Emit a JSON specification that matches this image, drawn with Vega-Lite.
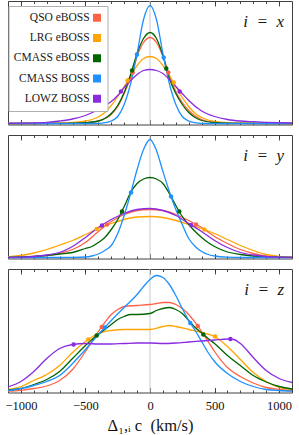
{
  "$schema": "https://vega.github.io/schema/vega-lite/v6.json",
  "padding": {"left": 4, "top": 0, "right": 6, "bottom": 0},
  "spacing": 7,
  "config": {
    "font": "Liberation Serif",
    "view": {"stroke": "#404040", "strokeWidth": 1},
    "axis": {"domain": false, "grid": false, "tickColor": "#333333", "tickWidth": 0.9, "labelFont": "Liberation Serif", "titleFont": "Liberation Serif"}
  },
  "datasets": {
    "curves": [
      {"p":"x","s":"QSO eBOSS","v":-1100,"d":0},{"p":"x","s":"QSO eBOSS","v":-700,"d":0.2},{"p":"x","s":"QSO eBOSS","v":-600,"d":0.3},{"p":"x","s":"QSO eBOSS","v":-500,"d":0.8},{"p":"x","s":"QSO eBOSS","v":-400,"d":2.5},{"p":"x","s":"QSO eBOSS","v":-350,"d":5},{"p":"x","s":"QSO eBOSS","v":-300,"d":9},{"p":"x","s":"QSO eBOSS","v":-250,"d":17},{"p":"x","s":"QSO eBOSS","v":-200,"d":30},{"p":"x","s":"QSO eBOSS","v":-150,"d":46},{"p":"x","s":"QSO eBOSS","v":-100,"d":67},{"p":"x","s":"QSO eBOSS","v":-50,"d":81},{"p":"x","s":"QSO eBOSS","v":0,"d":86},{"p":"x","s":"QSO eBOSS","v":50,"d":81},{"p":"x","s":"QSO eBOSS","v":100,"d":67},{"p":"x","s":"QSO eBOSS","v":150,"d":48},{"p":"x","s":"QSO eBOSS","v":200,"d":32},{"p":"x","s":"QSO eBOSS","v":250,"d":21},{"p":"x","s":"QSO eBOSS","v":300,"d":13},{"p":"x","s":"QSO eBOSS","v":350,"d":7.5},{"p":"x","s":"QSO eBOSS","v":400,"d":4},{"p":"x","s":"QSO eBOSS","v":500,"d":1.3},{"p":"x","s":"QSO eBOSS","v":600,"d":0.5},{"p":"x","s":"QSO eBOSS","v":700,"d":0.2},{"p":"x","s":"QSO eBOSS","v":1100,"d":0},
      {"p":"x","s":"LRG eBOSS","v":-1100,"d":0},{"p":"x","s":"LRG eBOSS","v":-800,"d":0.2},{"p":"x","s":"LRG eBOSS","v":-700,"d":0.5},{"p":"x","s":"LRG eBOSS","v":-600,"d":1},{"p":"x","s":"LRG eBOSS","v":-500,"d":2.5},{"p":"x","s":"LRG eBOSS","v":-450,"d":4},{"p":"x","s":"LRG eBOSS","v":-400,"d":6.5},{"p":"x","s":"LRG eBOSS","v":-350,"d":11},{"p":"x","s":"LRG eBOSS","v":-300,"d":18},{"p":"x","s":"LRG eBOSS","v":-250,"d":27},{"p":"x","s":"LRG eBOSS","v":-200,"d":37},{"p":"x","s":"LRG eBOSS","v":-150,"d":48},{"p":"x","s":"LRG eBOSS","v":-100,"d":58},{"p":"x","s":"LRG eBOSS","v":-50,"d":65},{"p":"x","s":"LRG eBOSS","v":0,"d":67},{"p":"x","s":"LRG eBOSS","v":50,"d":65},{"p":"x","s":"LRG eBOSS","v":100,"d":58},{"p":"x","s":"LRG eBOSS","v":150,"d":48},{"p":"x","s":"LRG eBOSS","v":200,"d":37},{"p":"x","s":"LRG eBOSS","v":250,"d":26},{"p":"x","s":"LRG eBOSS","v":300,"d":17},{"p":"x","s":"LRG eBOSS","v":350,"d":10},{"p":"x","s":"LRG eBOSS","v":400,"d":6},{"p":"x","s":"LRG eBOSS","v":450,"d":3.5},{"p":"x","s":"LRG eBOSS","v":500,"d":2.2},{"p":"x","s":"LRG eBOSS","v":600,"d":0.8},{"p":"x","s":"LRG eBOSS","v":700,"d":0.3},{"p":"x","s":"LRG eBOSS","v":1100,"d":0},
      {"p":"x","s":"CMASS eBOSS","v":-1100,"d":0},{"p":"x","s":"CMASS eBOSS","v":-700,"d":0.1},{"p":"x","s":"CMASS eBOSS","v":-600,"d":0.3},{"p":"x","s":"CMASS eBOSS","v":-500,"d":0.8},{"p":"x","s":"CMASS eBOSS","v":-400,"d":2.5},{"p":"x","s":"CMASS eBOSS","v":-350,"d":5},{"p":"x","s":"CMASS eBOSS","v":-300,"d":10},{"p":"x","s":"CMASS eBOSS","v":-250,"d":18},{"p":"x","s":"CMASS eBOSS","v":-200,"d":31},{"p":"x","s":"CMASS eBOSS","v":-150,"d":49},{"p":"x","s":"CMASS eBOSS","v":-100,"d":70},{"p":"x","s":"CMASS eBOSS","v":-50,"d":85},{"p":"x","s":"CMASS eBOSS","v":0,"d":91},{"p":"x","s":"CMASS eBOSS","v":50,"d":85},{"p":"x","s":"CMASS eBOSS","v":100,"d":68},{"p":"x","s":"CMASS eBOSS","v":150,"d":45},{"p":"x","s":"CMASS eBOSS","v":200,"d":30},{"p":"x","s":"CMASS eBOSS","v":250,"d":19},{"p":"x","s":"CMASS eBOSS","v":300,"d":11},{"p":"x","s":"CMASS eBOSS","v":350,"d":6},{"p":"x","s":"CMASS eBOSS","v":400,"d":3},{"p":"x","s":"CMASS eBOSS","v":500,"d":1},{"p":"x","s":"CMASS eBOSS","v":600,"d":0.3},{"p":"x","s":"CMASS eBOSS","v":700,"d":0.1},{"p":"x","s":"CMASS eBOSS","v":1100,"d":0},
      {"p":"x","s":"CMASS BOSS","v":-1100,"d":0},{"p":"x","s":"CMASS BOSS","v":-500,"d":0},{"p":"x","s":"CMASS BOSS","v":-400,"d":0.2},{"p":"x","s":"CMASS BOSS","v":-350,"d":0.8},{"p":"x","s":"CMASS BOSS","v":-300,"d":2.5},{"p":"x","s":"CMASS BOSS","v":-250,"d":7},{"p":"x","s":"CMASS BOSS","v":-200,"d":19},{"p":"x","s":"CMASS BOSS","v":-150,"d":40},{"p":"x","s":"CMASS BOSS","v":-100,"d":70},{"p":"x","s":"CMASS BOSS","v":-50,"d":104},{"p":"x","s":"CMASS BOSS","v":0,"d":118},{"p":"x","s":"CMASS BOSS","v":50,"d":104},{"p":"x","s":"CMASS BOSS","v":100,"d":70},{"p":"x","s":"CMASS BOSS","v":150,"d":40},{"p":"x","s":"CMASS BOSS","v":200,"d":19},{"p":"x","s":"CMASS BOSS","v":250,"d":7},{"p":"x","s":"CMASS BOSS","v":300,"d":2.5},{"p":"x","s":"CMASS BOSS","v":350,"d":0.8},{"p":"x","s":"CMASS BOSS","v":400,"d":0.2},{"p":"x","s":"CMASS BOSS","v":500,"d":0},{"p":"x","s":"CMASS BOSS","v":1100,"d":0},
      {"p":"x","s":"LOWZ BOSS","v":-1100,"d":0.1},{"p":"x","s":"LOWZ BOSS","v":-1000,"d":0.3},{"p":"x","s":"LOWZ BOSS","v":-900,"d":0.6},{"p":"x","s":"LOWZ BOSS","v":-800,"d":1.2},{"p":"x","s":"LOWZ BOSS","v":-700,"d":2.5},{"p":"x","s":"LOWZ BOSS","v":-600,"d":4.5},{"p":"x","s":"LOWZ BOSS","v":-500,"d":8},{"p":"x","s":"LOWZ BOSS","v":-400,"d":14},{"p":"x","s":"LOWZ BOSS","v":-300,"d":22},{"p":"x","s":"LOWZ BOSS","v":-250,"d":28},{"p":"x","s":"LOWZ BOSS","v":-200,"d":36},{"p":"x","s":"LOWZ BOSS","v":-150,"d":43},{"p":"x","s":"LOWZ BOSS","v":-100,"d":49},{"p":"x","s":"LOWZ BOSS","v":-50,"d":53},{"p":"x","s":"LOWZ BOSS","v":0,"d":54},{"p":"x","s":"LOWZ BOSS","v":50,"d":53},{"p":"x","s":"LOWZ BOSS","v":100,"d":50},{"p":"x","s":"LOWZ BOSS","v":150,"d":44},{"p":"x","s":"LOWZ BOSS","v":200,"d":37},{"p":"x","s":"LOWZ BOSS","v":250,"d":30},{"p":"x","s":"LOWZ BOSS","v":300,"d":23},{"p":"x","s":"LOWZ BOSS","v":400,"d":12.5},{"p":"x","s":"LOWZ BOSS","v":500,"d":7},{"p":"x","s":"LOWZ BOSS","v":600,"d":4},{"p":"x","s":"LOWZ BOSS","v":700,"d":2.5},{"p":"x","s":"LOWZ BOSS","v":800,"d":1.8},{"p":"x","s":"LOWZ BOSS","v":900,"d":1.2},{"p":"x","s":"LOWZ BOSS","v":1000,"d":0.8},{"p":"x","s":"LOWZ BOSS","v":1100,"d":0.5},

      {"p":"y","s":"QSO eBOSS","v":-1100,"d":0.2},{"p":"y","s":"QSO eBOSS","v":-1000,"d":0.4},{"p":"y","s":"QSO eBOSS","v":-900,"d":1},{"p":"y","s":"QSO eBOSS","v":-800,"d":2},{"p":"y","s":"QSO eBOSS","v":-700,"d":4},{"p":"y","s":"QSO eBOSS","v":-600,"d":8},{"p":"y","s":"QSO eBOSS","v":-500,"d":15},{"p":"y","s":"QSO eBOSS","v":-400,"d":26},{"p":"y","s":"QSO eBOSS","v":-300,"d":36},{"p":"y","s":"QSO eBOSS","v":-200,"d":43},{"p":"y","s":"QSO eBOSS","v":-100,"d":47},{"p":"y","s":"QSO eBOSS","v":0,"d":48},{"p":"y","s":"QSO eBOSS","v":100,"d":47},{"p":"y","s":"QSO eBOSS","v":200,"d":43},{"p":"y","s":"QSO eBOSS","v":300,"d":37},{"p":"y","s":"QSO eBOSS","v":400,"d":30},{"p":"y","s":"QSO eBOSS","v":500,"d":21},{"p":"y","s":"QSO eBOSS","v":600,"d":14},{"p":"y","s":"QSO eBOSS","v":700,"d":8},{"p":"y","s":"QSO eBOSS","v":800,"d":4},{"p":"y","s":"QSO eBOSS","v":900,"d":1.5},{"p":"y","s":"QSO eBOSS","v":1000,"d":0.5},{"p":"y","s":"QSO eBOSS","v":1100,"d":0.2},
      {"p":"y","s":"LRG eBOSS","v":-1100,"d":0.8},{"p":"y","s":"LRG eBOSS","v":-1000,"d":2},{"p":"y","s":"LRG eBOSS","v":-900,"d":4.5},{"p":"y","s":"LRG eBOSS","v":-800,"d":8},{"p":"y","s":"LRG eBOSS","v":-700,"d":12.5},{"p":"y","s":"LRG eBOSS","v":-600,"d":17},{"p":"y","s":"LRG eBOSS","v":-500,"d":23},{"p":"y","s":"LRG eBOSS","v":-400,"d":29},{"p":"y","s":"LRG eBOSS","v":-300,"d":34},{"p":"y","s":"LRG eBOSS","v":-200,"d":38},{"p":"y","s":"LRG eBOSS","v":-100,"d":40.5},{"p":"y","s":"LRG eBOSS","v":0,"d":41},{"p":"y","s":"LRG eBOSS","v":100,"d":40},{"p":"y","s":"LRG eBOSS","v":200,"d":37},{"p":"y","s":"LRG eBOSS","v":300,"d":33},{"p":"y","s":"LRG eBOSS","v":400,"d":29},{"p":"y","s":"LRG eBOSS","v":500,"d":24},{"p":"y","s":"LRG eBOSS","v":600,"d":18},{"p":"y","s":"LRG eBOSS","v":700,"d":12},{"p":"y","s":"LRG eBOSS","v":800,"d":7},{"p":"y","s":"LRG eBOSS","v":900,"d":3},{"p":"y","s":"LRG eBOSS","v":1000,"d":1},{"p":"y","s":"LRG eBOSS","v":1100,"d":0.3},
      {"p":"y","s":"CMASS eBOSS","v":-1100,"d":0.2},{"p":"y","s":"CMASS eBOSS","v":-1000,"d":0.5},{"p":"y","s":"CMASS eBOSS","v":-900,"d":1},{"p":"y","s":"CMASS eBOSS","v":-800,"d":2},{"p":"y","s":"CMASS eBOSS","v":-700,"d":3.5},{"p":"y","s":"CMASS eBOSS","v":-600,"d":5},{"p":"y","s":"CMASS eBOSS","v":-500,"d":9},{"p":"y","s":"CMASS eBOSS","v":-450,"d":11},{"p":"y","s":"CMASS eBOSS","v":-400,"d":15},{"p":"y","s":"CMASS eBOSS","v":-350,"d":20},{"p":"y","s":"CMASS eBOSS","v":-300,"d":28},{"p":"y","s":"CMASS eBOSS","v":-250,"d":38},{"p":"y","s":"CMASS eBOSS","v":-200,"d":51},{"p":"y","s":"CMASS eBOSS","v":-150,"d":65},{"p":"y","s":"CMASS eBOSS","v":-100,"d":74},{"p":"y","s":"CMASS eBOSS","v":-50,"d":78.5},{"p":"y","s":"CMASS eBOSS","v":0,"d":80},{"p":"y","s":"CMASS eBOSS","v":50,"d":78.5},{"p":"y","s":"CMASS eBOSS","v":100,"d":74},{"p":"y","s":"CMASS eBOSS","v":150,"d":64},{"p":"y","s":"CMASS eBOSS","v":200,"d":52},{"p":"y","s":"CMASS eBOSS","v":250,"d":41},{"p":"y","s":"CMASS eBOSS","v":300,"d":33},{"p":"y","s":"CMASS eBOSS","v":350,"d":26},{"p":"y","s":"CMASS eBOSS","v":400,"d":20},{"p":"y","s":"CMASS eBOSS","v":450,"d":15},{"p":"y","s":"CMASS eBOSS","v":500,"d":11},{"p":"y","s":"CMASS eBOSS","v":600,"d":5.5},{"p":"y","s":"CMASS eBOSS","v":700,"d":3},{"p":"y","s":"CMASS eBOSS","v":800,"d":1.5},{"p":"y","s":"CMASS eBOSS","v":900,"d":0.7},{"p":"y","s":"CMASS eBOSS","v":1000,"d":0.3},{"p":"y","s":"CMASS eBOSS","v":1100,"d":0.1},
      {"p":"y","s":"CMASS BOSS","v":-1100,"d":0},{"p":"y","s":"CMASS BOSS","v":-700,"d":0},{"p":"y","s":"CMASS BOSS","v":-600,"d":0.1},{"p":"y","s":"CMASS BOSS","v":-500,"d":0.5},{"p":"y","s":"CMASS BOSS","v":-450,"d":1.5},{"p":"y","s":"CMASS BOSS","v":-400,"d":3.5},{"p":"y","s":"CMASS BOSS","v":-350,"d":7},{"p":"y","s":"CMASS BOSS","v":-300,"d":12},{"p":"y","s":"CMASS BOSS","v":-250,"d":24},{"p":"y","s":"CMASS BOSS","v":-200,"d":42},{"p":"y","s":"CMASS BOSS","v":-150,"d":64},{"p":"y","s":"CMASS BOSS","v":-100,"d":88},{"p":"y","s":"CMASS BOSS","v":-50,"d":108},{"p":"y","s":"CMASS BOSS","v":0,"d":118},{"p":"y","s":"CMASS BOSS","v":50,"d":107},{"p":"y","s":"CMASS BOSS","v":100,"d":86},{"p":"y","s":"CMASS BOSS","v":150,"d":66},{"p":"y","s":"CMASS BOSS","v":200,"d":48},{"p":"y","s":"CMASS BOSS","v":250,"d":33},{"p":"y","s":"CMASS BOSS","v":300,"d":19},{"p":"y","s":"CMASS BOSS","v":350,"d":11},{"p":"y","s":"CMASS BOSS","v":400,"d":6},{"p":"y","s":"CMASS BOSS","v":450,"d":3},{"p":"y","s":"CMASS BOSS","v":500,"d":1.5},{"p":"y","s":"CMASS BOSS","v":600,"d":0.3},{"p":"y","s":"CMASS BOSS","v":700,"d":0},{"p":"y","s":"CMASS BOSS","v":1100,"d":0},
      {"p":"y","s":"LOWZ BOSS","v":-1100,"d":0.2},{"p":"y","s":"LOWZ BOSS","v":-1000,"d":0.4},{"p":"y","s":"LOWZ BOSS","v":-900,"d":1},{"p":"y","s":"LOWZ BOSS","v":-800,"d":2.5},{"p":"y","s":"LOWZ BOSS","v":-700,"d":5},{"p":"y","s":"LOWZ BOSS","v":-600,"d":11},{"p":"y","s":"LOWZ BOSS","v":-500,"d":20},{"p":"y","s":"LOWZ BOSS","v":-400,"d":30},{"p":"y","s":"LOWZ BOSS","v":-300,"d":38},{"p":"y","s":"LOWZ BOSS","v":-200,"d":44},{"p":"y","s":"LOWZ BOSS","v":-100,"d":48},{"p":"y","s":"LOWZ BOSS","v":0,"d":49},{"p":"y","s":"LOWZ BOSS","v":100,"d":47},{"p":"y","s":"LOWZ BOSS","v":200,"d":42},{"p":"y","s":"LOWZ BOSS","v":300,"d":34},{"p":"y","s":"LOWZ BOSS","v":400,"d":26},{"p":"y","s":"LOWZ BOSS","v":500,"d":17},{"p":"y","s":"LOWZ BOSS","v":600,"d":10},{"p":"y","s":"LOWZ BOSS","v":700,"d":5},{"p":"y","s":"LOWZ BOSS","v":800,"d":2.5},{"p":"y","s":"LOWZ BOSS","v":900,"d":1},{"p":"y","s":"LOWZ BOSS","v":1000,"d":0.4},{"p":"y","s":"LOWZ BOSS","v":1100,"d":0.2},

      {"p":"z","s":"QSO eBOSS","v":-1100,"d":0.5},{"p":"z","s":"QSO eBOSS","v":-1000,"d":1.2},{"p":"z","s":"QSO eBOSS","v":-900,"d":3},{"p":"z","s":"QSO eBOSS","v":-800,"d":5.5},{"p":"z","s":"QSO eBOSS","v":-700,"d":11},{"p":"z","s":"QSO eBOSS","v":-600,"d":22},{"p":"z","s":"QSO eBOSS","v":-500,"d":40},{"p":"z","s":"QSO eBOSS","v":-450,"d":50},{"p":"z","s":"QSO eBOSS","v":-400,"d":60},{"p":"z","s":"QSO eBOSS","v":-350,"d":69},{"p":"z","s":"QSO eBOSS","v":-300,"d":77},{"p":"z","s":"QSO eBOSS","v":-250,"d":82},{"p":"z","s":"QSO eBOSS","v":-200,"d":85},{"p":"z","s":"QSO eBOSS","v":-100,"d":86},{"p":"z","s":"QSO eBOSS","v":0,"d":87},{"p":"z","s":"QSO eBOSS","v":50,"d":88},{"p":"z","s":"QSO eBOSS","v":100,"d":89},{"p":"z","s":"QSO eBOSS","v":150,"d":89},{"p":"z","s":"QSO eBOSS","v":200,"d":87},{"p":"z","s":"QSO eBOSS","v":250,"d":83},{"p":"z","s":"QSO eBOSS","v":300,"d":77},{"p":"z","s":"QSO eBOSS","v":350,"d":69},{"p":"z","s":"QSO eBOSS","v":400,"d":60},{"p":"z","s":"QSO eBOSS","v":450,"d":50},{"p":"z","s":"QSO eBOSS","v":500,"d":40},{"p":"z","s":"QSO eBOSS","v":600,"d":24},{"p":"z","s":"QSO eBOSS","v":700,"d":15},{"p":"z","s":"QSO eBOSS","v":800,"d":8.5},{"p":"z","s":"QSO eBOSS","v":900,"d":4},{"p":"z","s":"QSO eBOSS","v":1000,"d":2},{"p":"z","s":"QSO eBOSS","v":1100,"d":0.8},
      {"p":"z","s":"LRG eBOSS","v":-1100,"d":2},{"p":"z","s":"LRG eBOSS","v":-1000,"d":5},{"p":"z","s":"LRG eBOSS","v":-900,"d":11},{"p":"z","s":"LRG eBOSS","v":-800,"d":17},{"p":"z","s":"LRG eBOSS","v":-700,"d":26},{"p":"z","s":"LRG eBOSS","v":-600,"d":39},{"p":"z","s":"LRG eBOSS","v":-500,"d":50},{"p":"z","s":"LRG eBOSS","v":-400,"d":58},{"p":"z","s":"LRG eBOSS","v":-300,"d":61},{"p":"z","s":"LRG eBOSS","v":-200,"d":62},{"p":"z","s":"LRG eBOSS","v":-100,"d":62},{"p":"z","s":"LRG eBOSS","v":0,"d":62},{"p":"z","s":"LRG eBOSS","v":100,"d":65},{"p":"z","s":"LRG eBOSS","v":150,"d":66},{"p":"z","s":"LRG eBOSS","v":200,"d":65},{"p":"z","s":"LRG eBOSS","v":300,"d":62},{"p":"z","s":"LRG eBOSS","v":400,"d":59},{"p":"z","s":"LRG eBOSS","v":500,"d":55},{"p":"z","s":"LRG eBOSS","v":600,"d":45},{"p":"z","s":"LRG eBOSS","v":700,"d":32},{"p":"z","s":"LRG eBOSS","v":800,"d":19},{"p":"z","s":"LRG eBOSS","v":900,"d":10},{"p":"z","s":"LRG eBOSS","v":1000,"d":4},{"p":"z","s":"LRG eBOSS","v":1100,"d":2},
      {"p":"z","s":"CMASS eBOSS","v":-1100,"d":1.5},{"p":"z","s":"CMASS eBOSS","v":-1000,"d":3},{"p":"z","s":"CMASS eBOSS","v":-900,"d":7},{"p":"z","s":"CMASS eBOSS","v":-800,"d":12},{"p":"z","s":"CMASS eBOSS","v":-700,"d":20},{"p":"z","s":"CMASS eBOSS","v":-600,"d":33},{"p":"z","s":"CMASS eBOSS","v":-500,"d":46},{"p":"z","s":"CMASS eBOSS","v":-450,"d":52},{"p":"z","s":"CMASS eBOSS","v":-400,"d":57},{"p":"z","s":"CMASS eBOSS","v":-350,"d":62},{"p":"z","s":"CMASS eBOSS","v":-300,"d":67},{"p":"z","s":"CMASS eBOSS","v":-250,"d":72},{"p":"z","s":"CMASS eBOSS","v":-200,"d":75},{"p":"z","s":"CMASS eBOSS","v":-150,"d":77},{"p":"z","s":"CMASS eBOSS","v":-100,"d":77},{"p":"z","s":"CMASS eBOSS","v":0,"d":78},{"p":"z","s":"CMASS eBOSS","v":50,"d":81},{"p":"z","s":"CMASS eBOSS","v":100,"d":83},{"p":"z","s":"CMASS eBOSS","v":150,"d":84},{"p":"z","s":"CMASS eBOSS","v":200,"d":82},{"p":"z","s":"CMASS eBOSS","v":250,"d":78},{"p":"z","s":"CMASS eBOSS","v":300,"d":71},{"p":"z","s":"CMASS eBOSS","v":350,"d":64},{"p":"z","s":"CMASS eBOSS","v":400,"d":58.5},{"p":"z","s":"CMASS eBOSS","v":450,"d":53},{"p":"z","s":"CMASS eBOSS","v":500,"d":48},{"p":"z","s":"CMASS eBOSS","v":600,"d":36},{"p":"z","s":"CMASS eBOSS","v":700,"d":26},{"p":"z","s":"CMASS eBOSS","v":800,"d":16},{"p":"z","s":"CMASS eBOSS","v":900,"d":9.5},{"p":"z","s":"CMASS eBOSS","v":1000,"d":5},{"p":"z","s":"CMASS eBOSS","v":1100,"d":2.5},
      {"p":"z","s":"CMASS BOSS","v":-1100,"d":1},{"p":"z","s":"CMASS BOSS","v":-1000,"d":3},{"p":"z","s":"CMASS BOSS","v":-900,"d":6},{"p":"z","s":"CMASS BOSS","v":-800,"d":10},{"p":"z","s":"CMASS BOSS","v":-700,"d":16},{"p":"z","s":"CMASS BOSS","v":-600,"d":28},{"p":"z","s":"CMASS BOSS","v":-500,"d":42},{"p":"z","s":"CMASS BOSS","v":-400,"d":57},{"p":"z","s":"CMASS BOSS","v":-300,"d":71},{"p":"z","s":"CMASS BOSS","v":-200,"d":84},{"p":"z","s":"CMASS BOSS","v":-100,"d":97},{"p":"z","s":"CMASS BOSS","v":-50,"d":105},{"p":"z","s":"CMASS BOSS","v":0,"d":112},{"p":"z","s":"CMASS BOSS","v":50,"d":116},{"p":"z","s":"CMASS BOSS","v":100,"d":114},{"p":"z","s":"CMASS BOSS","v":150,"d":107},{"p":"z","s":"CMASS BOSS","v":200,"d":96},{"p":"z","s":"CMASS BOSS","v":250,"d":83},{"p":"z","s":"CMASS BOSS","v":300,"d":71},{"p":"z","s":"CMASS BOSS","v":350,"d":61},{"p":"z","s":"CMASS BOSS","v":400,"d":50},{"p":"z","s":"CMASS BOSS","v":450,"d":39},{"p":"z","s":"CMASS BOSS","v":500,"d":30},{"p":"z","s":"CMASS BOSS","v":600,"d":18},{"p":"z","s":"CMASS BOSS","v":700,"d":10},{"p":"z","s":"CMASS BOSS","v":800,"d":5},{"p":"z","s":"CMASS BOSS","v":900,"d":2},{"p":"z","s":"CMASS BOSS","v":1000,"d":1},{"p":"z","s":"CMASS BOSS","v":1100,"d":0.5},
      {"p":"z","s":"LOWZ BOSS","v":-1100,"d":4.5},{"p":"z","s":"LOWZ BOSS","v":-1000,"d":10},{"p":"z","s":"LOWZ BOSS","v":-900,"d":20},{"p":"z","s":"LOWZ BOSS","v":-800,"d":33},{"p":"z","s":"LOWZ BOSS","v":-700,"d":43},{"p":"z","s":"LOWZ BOSS","v":-600,"d":47},{"p":"z","s":"LOWZ BOSS","v":-500,"d":48},{"p":"z","s":"LOWZ BOSS","v":-400,"d":47.5},{"p":"z","s":"LOWZ BOSS","v":-300,"d":47.5},{"p":"z","s":"LOWZ BOSS","v":-200,"d":48},{"p":"z","s":"LOWZ BOSS","v":-100,"d":48.5},{"p":"z","s":"LOWZ BOSS","v":0,"d":48.5},{"p":"z","s":"LOWZ BOSS","v":100,"d":48},{"p":"z","s":"LOWZ BOSS","v":200,"d":48.5},{"p":"z","s":"LOWZ BOSS","v":300,"d":49.5},{"p":"z","s":"LOWZ BOSS","v":400,"d":50.5},{"p":"z","s":"LOWZ BOSS","v":500,"d":51.5},{"p":"z","s":"LOWZ BOSS","v":600,"d":52.5},{"p":"z","s":"LOWZ BOSS","v":650,"d":52},{"p":"z","s":"LOWZ BOSS","v":700,"d":48},{"p":"z","s":"LOWZ BOSS","v":800,"d":34},{"p":"z","s":"LOWZ BOSS","v":900,"d":21},{"p":"z","s":"LOWZ BOSS","v":1000,"d":13},{"p":"z","s":"LOWZ BOSS","v":1100,"d":9}
    ],
    "points": [
      {"p":"x","s":"QSO eBOSS","v":-134,"d":51},{"p":"x","s":"QSO eBOSS","v":142,"d":51},
      {"p":"x","s":"LRG eBOSS","v":-173,"d":43},{"p":"x","s":"LRG eBOSS","v":184,"d":41},
      {"p":"x","s":"CMASS eBOSS","v":-139,"d":53},{"p":"x","s":"CMASS eBOSS","v":126,"d":55},
      {"p":"x","s":"CMASS BOSS","v":-101,"d":69},{"p":"x","s":"CMASS BOSS","v":106,"d":66},
      {"p":"x","s":"LOWZ BOSS","v":-225,"d":32},{"p":"x","s":"LOWZ BOSS","v":230,"d":32},
      {"p":"y","s":"QSO eBOSS","v":-333,"d":33},{"p":"y","s":"QSO eBOSS","v":357,"d":33},
      {"p":"y","s":"LRG eBOSS","v":-413,"d":28.5},{"p":"y","s":"LRG eBOSS","v":421,"d":28},
      {"p":"y","s":"CMASS eBOSS","v":-217,"d":46},{"p":"y","s":"CMASS eBOSS","v":227,"d":46},
      {"p":"y","s":"CMASS BOSS","v":-147,"d":65},{"p":"y","s":"CMASS BOSS","v":163,"d":61},
      {"p":"y","s":"LOWZ BOSS","v":-372,"d":32},{"p":"y","s":"LOWZ BOSS","v":318,"d":32.5},
      {"p":"z","s":"QSO eBOSS","v":-374,"d":64.5},{"p":"z","s":"QSO eBOSS","v":370,"d":65.5},
      {"p":"z","s":"LRG eBOSS","v":-478,"d":52},{"p":"z","s":"LRG eBOSS","v":504,"d":55},
      {"p":"z","s":"CMASS eBOSS","v":-413,"d":56},{"p":"z","s":"CMASS eBOSS","v":413,"d":57},
      {"p":"z","s":"CMASS BOSS","v":-349,"d":64},{"p":"z","s":"CMASS BOSS","v":312,"d":68.5},
      {"p":"z","s":"LOWZ BOSS","v":-592,"d":47},{"p":"z","s":"LOWZ BOSS","v":623,"d":52.5}
    ]
  },
  "vconcat": [
    {
      "width": 284, "height": 123.5,
      "resolve": {"axis": {"x": "independent"}},
      "layer": [
        {"data": {"values": [{}]}, "mark": {"type": "rule", "color": "#c8c8c8", "strokeWidth": 1},
         "encoding": {"x": {"datum": 0, "type": "quantitative", "scale": {"domain": [-1100, 1100], "nice": false, "zero": false}, "axis": null}}},
        {"data": {"name": "curves"}, "transform": [{"filter": "datum.p === 'x'"}],
         "mark": {"type": "line", "interpolate": "monotone", "strokeWidth": 1.3},
         "encoding": {
           "x": {"field": "v", "type": "quantitative", "scale": {"domain": [-1100, 1100], "nice": false, "zero": false},
             "axis": {"orient": "bottom", "values": [-1000, -500, 0, 500, 1000], "labels": false, "ticks": true, "tickSize": -5, "domain": false, "title": null}},
           "y": {"field": "d", "type": "quantitative", "scale": {"domain": [-1, 122.5], "nice": false, "zero": false}, "axis": null},
           "color": {"field": "s", "type": "nominal",
             "scale": {"domain": ["QSO eBOSS", "LRG eBOSS", "CMASS eBOSS", "CMASS BOSS", "LOWZ BOSS"], "range": ["#ff6347", "#ffa500", "#006400", "#1e90ff", "#8a2be2"]},
             "legend": {"title": null, "orient": "none", "legendX": 0.5, "legendY": 5, "direction": "vertical",
               "symbolType": "square", "symbolSize": 64, "symbolStrokeWidth": 0,
               "labelAlign": "right",
               "labelFont": "Liberation Serif", "labelFontSize": 11.5, "labelColor": "#1a1a1a", "labelLimit": 0,
               "padding": 6, "rowPadding": 7.25, "strokeColor": "#b0b0b0", "fillColor": "#ffffff", "cornerRadius": 0,
               "encode": {
                 "symbols": {"update": {"x": {"value": 82.5}, "fill": {"scale": "color", "field": "value"}, "stroke": {"value": "transparent"}, "opacity": {"value": 1}}},
                 "labels": {"update": {"x": {"value": 75.1}, "align": {"value": "right"}}}
               }}}
         }},
        {"data": {"name": "points"}, "transform": [{"filter": "datum.p === 'x'"}],
         "mark": {"type": "circle", "size": 20, "opacity": 1},
         "encoding": {
           "x": {"field": "v", "type": "quantitative",
             "axis": {"orient": "bottom", "values": [-1000, -900, -800, -700, -600, -500, -400, -300, -200, -100, 0, 100, 200, 300, 400, 500, 600, 700, 800, 900, 1000], "labels": false, "ticks": true, "tickSize": -2.5, "domain": false, "title": null}},
           "y": {"field": "d", "type": "quantitative", "axis": null},
           "color": {"field": "s", "type": "nominal", "legend": null}
         }},
        {"data": {"name": "points"}, "transform": [{"filter": "datum.p === 'x'"}],
         "mark": {"type": "circle", "size": 20, "opacity": 0},
         "encoding": {
           "x": {"field": "v", "type": "quantitative",
             "axis": {"orient": "top", "values": [-1000, -500, 0, 500, 1000], "labels": false, "ticks": true, "tickSize": -5, "domain": false, "title": null}},
           "y": {"field": "d", "type": "quantitative", "axis": null}
         }},
        {"data": {"name": "points"}, "transform": [{"filter": "datum.p === 'x'"}],
         "mark": {"type": "circle", "size": 20, "opacity": 0},
         "encoding": {
           "x": {"field": "v", "type": "quantitative",
             "axis": {"orient": "top", "values": [-1000, -900, -800, -700, -600, -500, -400, -300, -200, -100, 0, 100, 200, 300, 400, 500, 600, 700, 800, 900, 1000], "labels": false, "ticks": true, "tickSize": -2.5, "domain": false, "title": null}},
           "y": {"field": "d", "type": "quantitative", "axis": null}
         }},
        {"data": {"values": [{"t": "i\u2002=\u2002x"}]},
         "mark": {"type": "text", "align": "right", "baseline": "alphabetic", "font": "Liberation Serif", "fontSize": 17, "fontStyle": "italic", "color": "#1a1a1a"},
         "encoding": {"x": {"datum": 1038, "type": "quantitative", "axis": null}, "y": {"datum": 97, "type": "quantitative", "axis": null}, "text": {"field": "t"}}}
      ]
    },
    {
      "width": 284, "height": 123.5,
      "resolve": {"axis": {"x": "independent"}},
      "layer": [
        {"data": {"values": [{}]}, "mark": {"type": "rule", "color": "#c8c8c8", "strokeWidth": 1},
         "encoding": {"x": {"datum": 0, "type": "quantitative", "scale": {"domain": [-1100, 1100], "nice": false, "zero": false}, "axis": null}}},
        {"data": {"name": "curves"}, "transform": [{"filter": "datum.p === 'y'"}],
         "mark": {"type": "line", "interpolate": "monotone", "strokeWidth": 1.3},
         "encoding": {
           "x": {"field": "v", "type": "quantitative", "scale": {"domain": [-1100, 1100], "nice": false, "zero": false},
             "axis": {"orient": "bottom", "values": [-1000, -500, 0, 500, 1000], "labels": false, "ticks": true, "tickSize": -5, "domain": false, "title": null}},
           "y": {"field": "d", "type": "quantitative", "scale": {"domain": [-1, 122.5], "nice": false, "zero": false}, "axis": null},
           "color": {"field": "s", "type": "nominal", "legend": null}
         }},
        {"data": {"name": "points"}, "transform": [{"filter": "datum.p === 'y'"}],
         "mark": {"type": "circle", "size": 20, "opacity": 1},
         "encoding": {
           "x": {"field": "v", "type": "quantitative",
             "axis": {"orient": "bottom", "values": [-1000, -900, -800, -700, -600, -500, -400, -300, -200, -100, 0, 100, 200, 300, 400, 500, 600, 700, 800, 900, 1000], "labels": false, "ticks": true, "tickSize": -2.5, "domain": false, "title": null}},
           "y": {"field": "d", "type": "quantitative", "axis": null},
           "color": {"field": "s", "type": "nominal", "legend": null}
         }},
        {"data": {"name": "points"}, "transform": [{"filter": "datum.p === 'y'"}],
         "mark": {"type": "circle", "size": 20, "opacity": 0},
         "encoding": {
           "x": {"field": "v", "type": "quantitative",
             "axis": {"orient": "top", "values": [-1000, -500, 0, 500, 1000], "labels": false, "ticks": true, "tickSize": -5, "domain": false, "title": null}},
           "y": {"field": "d", "type": "quantitative", "axis": null}
         }},
        {"data": {"name": "points"}, "transform": [{"filter": "datum.p === 'y'"}],
         "mark": {"type": "circle", "size": 20, "opacity": 0},
         "encoding": {
           "x": {"field": "v", "type": "quantitative",
             "axis": {"orient": "top", "values": [-1000, -900, -800, -700, -600, -500, -400, -300, -200, -100, 0, 100, 200, 300, 400, 500, 600, 700, 800, 900, 1000], "labels": false, "ticks": true, "tickSize": -2.5, "domain": false, "title": null}},
           "y": {"field": "d", "type": "quantitative", "axis": null}
         }},
        {"data": {"values": [{"t": "i\u2002=\u2002y"}]},
         "mark": {"type": "text", "align": "right", "baseline": "alphabetic", "font": "Liberation Serif", "fontSize": 17, "fontStyle": "italic", "color": "#1a1a1a"},
         "encoding": {"x": {"datum": 1038, "type": "quantitative", "axis": null}, "y": {"datum": 97, "type": "quantitative", "axis": null}, "text": {"field": "t"}}}
      ]
    },
    {
      "width": 284, "height": 123.5,
      "resolve": {"axis": {"x": "independent"}},
      "layer": [
        {"data": {"values": [{}]}, "mark": {"type": "rule", "color": "#c8c8c8", "strokeWidth": 1},
         "encoding": {"x": {"datum": 0, "type": "quantitative", "scale": {"domain": [-1100, 1100], "nice": false, "zero": false}, "axis": null}}},
        {"data": {"name": "curves"}, "transform": [{"filter": "datum.p === 'z'"}],
         "mark": {"type": "line", "interpolate": "monotone", "strokeWidth": 1.3},
         "encoding": {
           "x": {"field": "v", "type": "quantitative", "scale": {"domain": [-1100, 1100], "nice": false, "zero": false},
             "axis": {"orient": "bottom", "values": [-1000, -500, 0, 500, 1000], "labels": false, "ticks": true, "tickSize": -5, "domain": false, "title": null}},
           "y": {"field": "d", "type": "quantitative", "scale": {"domain": [-1, 122.5], "nice": false, "zero": false}, "axis": null},
           "color": {"field": "s", "type": "nominal", "legend": null}
         }},
        {"data": {"name": "points"}, "transform": [{"filter": "datum.p === 'z'"}],
         "mark": {"type": "circle", "size": 20, "opacity": 1},
         "encoding": {
           "x": {"field": "v", "type": "quantitative",
             "axis": {"orient": "bottom", "values": [-1000, -900, -800, -700, -600, -500, -400, -300, -200, -100, 0, 100, 200, 300, 400, 500, 600, 700, 800, 900, 1000], "labels": false, "ticks": true, "tickSize": -2.5, "domain": false, "title": null}},
           "y": {"field": "d", "type": "quantitative", "axis": null},
           "color": {"field": "s", "type": "nominal", "legend": null}
         }},
        {"data": {"name": "points"}, "transform": [{"filter": "datum.p === 'z'"}],
         "mark": {"type": "circle", "size": 20, "opacity": 0},
         "encoding": {
           "x": {"field": "v", "type": "quantitative",
             "axis": {"orient": "top", "values": [-1000, -500, 0, 500, 1000], "labels": false, "ticks": true, "tickSize": -5, "domain": false, "title": null}},
           "y": {"field": "d", "type": "quantitative", "axis": null}
         }},
        {"data": {"name": "points"}, "transform": [{"filter": "datum.p === 'z'"}],
         "mark": {"type": "circle", "size": 20, "opacity": 0},
         "encoding": {
           "x": {"field": "v", "type": "quantitative",
             "axis": {"orient": "top", "values": [-1000, -900, -800, -700, -600, -500, -400, -300, -200, -100, 0, 100, 200, 300, 400, 500, 600, 700, 800, 900, 1000], "labels": false, "ticks": true, "tickSize": -2.5, "domain": false, "title": null}},
           "y": {"field": "d", "type": "quantitative", "axis": null}
         }},
        {"data": {"name": "points"}, "transform": [{"filter": "datum.p === 'z'"}],
         "mark": {"type": "circle", "size": 20, "opacity": 0},
         "encoding": {
           "x": {"field": "v", "type": "quantitative",
             "axis": {"orient": "bottom", "values": [-1000, -500, 0, 500, 1000], "format": "d", "labels": true, "ticks": false, "tickSize": 0, "domain": false,
               "labelPadding": 7, "labelFont": "Liberation Serif", "labelFontSize": 12.5, "labelColor": "#111111",
               "title": "Δ₁,ᵢ c\u2002(km/s)", "titleFont": "Liberation Serif", "titleFontSize": 16.5, "titleFontWeight": "normal", "titleColor": "#111111", "titlePadding": 5}},
           "y": {"field": "d", "type": "quantitative", "axis": null}
         }},
        {"data": {"values": [{"t": "i\u2002=\u2002z"}]},
         "mark": {"type": "text", "align": "right", "baseline": "alphabetic", "font": "Liberation Serif", "fontSize": 17, "fontStyle": "italic", "color": "#1a1a1a"},
         "encoding": {"x": {"datum": 1038, "type": "quantitative", "axis": null}, "y": {"datum": 97, "type": "quantitative", "axis": null}, "text": {"field": "t"}}}
      ]
    }
  ]
}
